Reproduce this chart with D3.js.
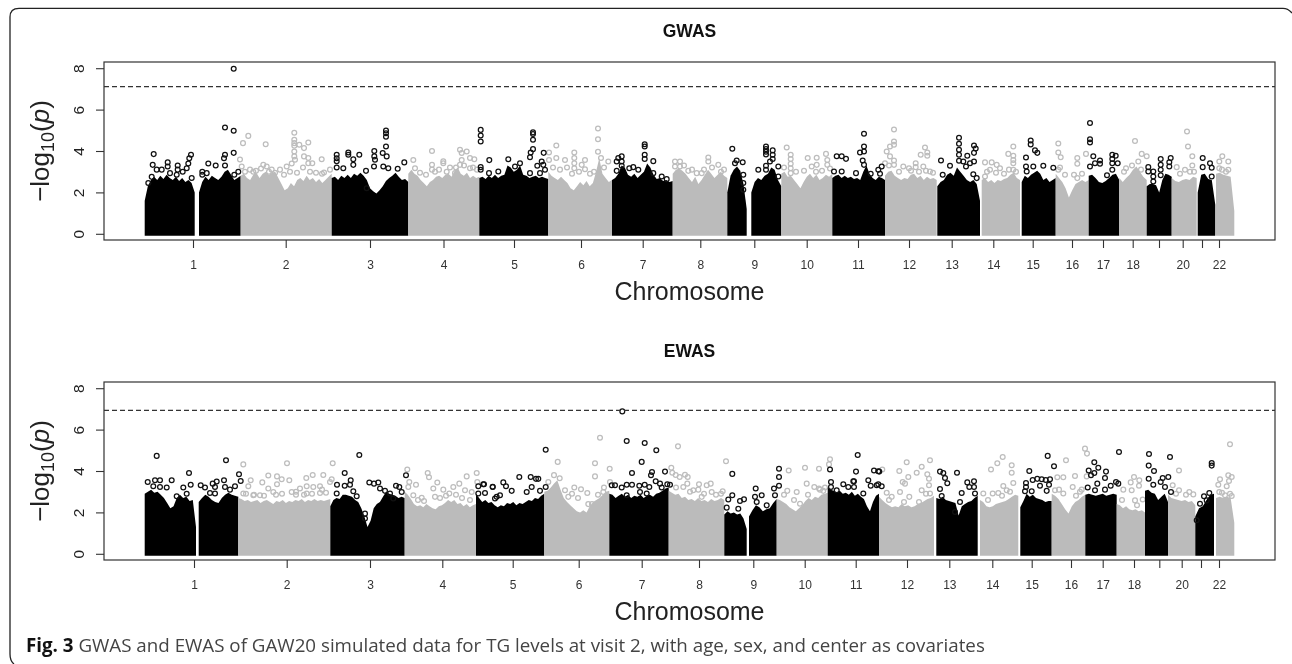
<!DOCTYPE html>
<html>
<head>
<meta charset="utf-8">
<script src="https://cdn.jsdelivr.net/npm/d3@7"></script>
<style>
    html, body { margin: 0; padding: 0; background: #fff; }
    svg { display: block; filter: blur(0.35px); }
    text { font-family: "Liberation Sans", Arial, sans-serif; }
</style>
</head>
<body>
<div id="chart"></div>
<script>
const chromLabels = ['1','2','3','4','5','6','7','8','9','10','11','12','13','14','15','16','17','18','','20','','22']
const yTicks = [0, 2, 4, 6, 8]

const gwasThreshold = 7.11
const ewasThreshold = 6.93

const gwasTicks = [89,181.7,266,339.5,410,477,538.7,596.3,650.3,702.7,754,805,847.7,889.3,928.7,968,999,1028.7,1055,1078.7,1098,1115]
const ewasTicks = [90,182.7,266,338.3,408.7,474.7,537.7,595,649.3,700.7,751.7,803,845.3,888.3,927.7,967,998.7,1030,1055.3,1077.7,1097,1115]

// dense part of each chromosome: [chromosome, start, end, top of the cloud read across the span]
const gwasBody = [
    [1, 40.7, 90.7, [1.6,2.3,2.6,2.75,2.6,2.8,2.65,2.85,2.7,2.6,2.75,2.55,2.7,2.5,2.6,2.45,2.0]],
    [1, 95, 136.7, [2.0,2.5,2.75,2.6,2.8,2.7,2.6,2.75,3.0,3.1,2.85,2.6,2.7,2.8]],
    [2, 136.7, 227.7, [2.8,2.9,2.7,2.6,2.85,2.95,2.7,2.9,3.0,2.85,2.95,3.0,2.7,2.4,2.1,2.2,2.45,2.3,2.6,2.7,2.55,2.8,2.6,2.7,2.5,2.65,2.45,2.6,2.75,2.9]],
    [3, 227.7, 304.3, [2.7,2.75,2.6,2.8,2.7,2.85,2.7,2.9,2.8,2.95,2.8,2.6,2.2,2.05,1.95,2.1,2.3,2.55,2.7,2.8,2.95,2.75,2.6,2.65,2.5]],
    [4, 304.3, 375.3, [2.9,3.1,2.9,2.8,2.6,2.45,2.3,2.5,2.6,2.75,2.8,2.7,2.85,2.9,2.75,3.05,3.2,2.9,2.8,2.95,2.7,2.8,2.7,2.75]],
    [5, 375.3, 444.3, [2.7,2.75,2.65,2.8,2.7,2.85,2.7,2.8,2.85,3.3,3.2,3.0,3.1,3.3,2.85,2.8,2.7,2.75,2.8,2.7,2.75,2.7,2.65]],
    [6, 444.3, 508, [3.0,2.8,2.7,2.6,2.75,2.6,2.45,2.2,2.1,2.3,2.5,2.35,2.55,2.3,2.45,3.0,3.65,2.9,2.7,2.5,2.6]],
    [7, 508, 568.7, [2.6,2.7,2.9,3.3,3.2,2.85,2.75,2.9,2.7,2.85,3.0,3.4,3.2,2.85,2.65,2.7,2.55,2.6,2.5,2.55]],
    [8, 568.7, 623.3, [2.9,3.1,3.15,3.05,2.9,2.7,2.5,2.75,2.4,2.6,2.85,3.1,2.9,2.7,2.85,3.0,2.8,2.7]],
    [9, 623.3, 642.7, [2.0,2.8,3.1,3.25,3.05,2.4,1.2]],
    [9, 647.3, 677.3, [2.0,2.5,2.7,2.6,2.8,2.9,3.2,3.1,2.6,2.3]],
    [10, 677.3, 728.3, [2.9,3.0,2.75,2.8,2.6,2.4,2.2,2.5,2.75,2.9,2.7,2.85,2.6,2.7,2.85,2.75,2.9]],
    [11, 728.3, 781, [2.7,2.8,2.85,2.7,2.8,2.7,2.75,2.65,2.7,2.6,3.0,3.3,2.9,2.7,2.6,2.75,2.7,2.6]],
    [12, 781, 832.7, [2.8,3.0,3.05,2.8,2.7,2.6,2.7,2.65,2.85,2.9,2.7,2.8,2.6,2.75,2.65,2.7,2.6]],
    [13, 833.3, 876, [2.3,2.5,2.6,2.85,2.95,2.8,3.2,3.0,2.8,2.6,2.5,2.6,2.4,1.6]],
    [14, 877.7, 916, [2.6,2.7,2.5,2.6,2.45,2.6,2.55,2.65,2.7,2.85,2.95,2.7,2.6]],
    [15, 917.7, 951.7, [2.5,2.8,2.7,2.85,2.95,3.05,2.9,2.6,2.7,2.5,2.6,2.7]],
    [16, 951.7, 984.7, [2.9,2.7,2.5,2.2,1.75,2.1,2.4,2.5,2.6,2.5,2.6]],
    [17, 984.7, 1015.3, [2.8,2.85,2.7,2.5,2.45,2.55,2.7,2.85,2.9,2.6]],
    [18, 1015.3, 1042.7, [2.7,2.5,2.7,2.85,3.1,3.25,3.0,2.75,2.6]],
    [19, 1042.7, 1067.7, [2.3,2.4,2.4,2.35,2.0,2.6,2.9,2.85,2.75]],
    [20, 1067.7, 1092.7, [2.7,2.55,2.5,2.6,2.65,2.6,2.75,2.7]],
    [21, 1093.7, 1111.3, [2.0,2.85,2.9,2.65,2.6,1.4]],
    [22, 1112, 1130.3, [2.9,2.95,2.85,2.8,2.75,1.1]]
]

const ewasBody = [
    [1, 40.7, 92, [2.9,3.0,3.1,2.95,3.0,2.85,2.7,2.45,2.2,2.3,2.7,2.85,2.7,2.75,2.55,2.6,1.3]],
    [1, 94.7, 134.3, [2.5,2.7,2.85,2.75,2.6,2.5,2.45,2.7,2.85,2.95,2.85,2.8,2.75]],
    [2, 134.3, 226.3, [2.7,2.65,2.55,2.6,2.5,2.55,2.6,2.45,2.55,2.6,2.5,2.4,2.55,2.5,2.6,2.45,2.55,2.5,2.6,2.55,2.65,2.5,2.6,2.55,2.65,2.55,2.6,2.55,2.6,2.65]],
    [3, 226.3, 300.7, [2.3,2.6,2.7,2.65,2.85,2.85,2.8,2.75,2.6,2.5,2.2,1.8,1.3,1.6,2.2,2.4,2.5,2.75,3.0,2.9,2.85,2.8,2.7,2.75,2.7]],
    [4, 300.7, 372, [3.0,2.85,2.65,2.4,2.3,2.35,2.25,2.4,2.3,2.2,2.15,2.3,2.35,2.45,2.6,2.5,2.6,2.4,2.45,2.3,2.4,2.25,2.35,2.4]],
    [5, 372, 440.3, [2.9,2.7,2.5,2.6,2.45,2.5,2.35,2.25,2.35,2.3,2.45,2.4,2.5,2.35,2.45,2.4,2.5,2.6,2.55,2.7,2.65,2.8,2.9]],
    [6, 440.3, 505.3, [3.0,3.05,3.2,3.4,3.55,3.1,2.7,2.5,2.35,2.2,2.05,2.0,2.1,2.0,2.3,2.5,2.6,2.7,2.85,3.0,3.05]],
    [7, 505.3, 564.7, [2.9,2.85,2.7,2.8,2.9,2.75,2.85,2.7,2.8,2.75,2.85,2.7,2.8,2.85,2.75,2.9,2.95,3.05,3.15,3.2]],
    [8, 564.7, 620.3, [3.05,2.95,2.85,2.9,2.7,2.75,2.6,2.65,2.55,2.7,2.55,2.6,2.5,2.65,2.55,2.6,2.7,2.6]],
    [9, 620.3, 642.7, [1.9,2.05,1.95,2.0,1.9,1.95,1.7,1.2]],
    [9, 645, 672.7, [1.8,2.1,2.35,2.25,2.05,2.15,2.2,2.45,2.65]],
    [10, 672.7, 723.7, [2.65,2.6,2.5,2.4,2.25,2.15,2.05,2.2,2.35,2.55,2.7,2.6,2.75,2.7,2.85,2.9,2.95]],
    [11, 723.7, 775, [3.2,3.1,3.05,2.95,3.05,2.9,2.95,2.85,3.0,2.8,2.9,2.75,2.65,2.3,2.05,2.5,2.8,2.9]],
    [12, 775, 830, [2.75,2.6,2.45,2.35,2.25,2.3,2.25,2.4,2.3,2.35,2.25,2.3,2.4,2.45,2.55,2.65,2.7,2.8]],
    [13, 832.3, 873.7, [2.7,2.65,2.75,2.6,2.55,2.5,2.45,1.85,2.3,2.4,2.5,2.55,2.7,2.8]],
    [14, 876, 914.3, [2.6,2.5,2.3,2.25,2.3,2.4,2.45,2.5,2.55,2.65,2.75,2.85,2.8]],
    [15, 916.3, 947.7, [2.25,2.55,2.9,2.75,2.85,2.7,2.65,2.6,2.5,2.55,2.55]],
    [16, 947.7, 981.3, [2.9,2.8,2.65,2.4,2.15,1.95,2.3,2.5,2.6,2.75,2.85]],
    [17, 981.3, 1012.7, [2.85,2.9,2.85,2.8,2.85,2.9,2.8,2.85,2.9,2.85]],
    [18, 1012.7, 1041, [2.4,2.35,2.2,2.3,2.15,2.1,2.15,2.05,2.1,2.0]],
    [19, 1041, 1064, [3.05,3.1,2.95,2.9,2.6,2.75,2.9,2.5]],
    [20, 1064, 1091.3, [2.85,2.7,2.65,2.6,2.55,2.6,2.5,2.55,2.35]],
    [21, 1091.3, 1110, [1.8,2.2,2.3,2.6,2.85,2.9]],
    [22, 1112, 1130.3, [2.7,2.75,2.7,2.75,2.7,1.5]]
]

// single points above the cloud: [position, -log10(p)]
const gwasOdd = [
    [49.7,3.85],[48.7,3.33],[63.7,3.45],[63.7,3.25],[73.7,3.3],[73.7,3.1],[87,3.82],[85.3,3.65],[84.3,3.4],[82.7,3.17],[78.7,3.0],[52.7,3.1],[57.7,3.1],[66,2.93],[72.7,2.85],[44.3,2.45],[47.7,2.75],[87.7,2.7],
    [104.3,3.4],[111.7,3.3],[98.3,3.0],[98.3,2.85],[102.7,2.93],[121,5.14],[129.7,4.98],[129.7,7.97],[129.7,3.91],[121,3.82],[120,3.65],[121,3.3],[134.3,3.0],[130.3,2.85],
    [232.7,3.82],[232.7,3.65],[232.7,3.5],[232.7,3.2],[244.3,3.93],[244.3,3.82],[249.3,3.6],[255.3,3.82],[249.3,3.33],[239.3,3.17],[262,3.04],[270.3,4.0],[270.3,3.74],[271,3.58],[270,3.25],[278.7,3.9],[282.7,3.74],[282,4.99],[282,4.86],[282,4.69],[282,4.22],[279.3,3.25],[284.3,3.17],[300.3,3.45],[293.7,3.14],[262.7,2.2],
    [376.7,5.02],[376.7,4.75],[376.7,4.46],[376.7,3.22],[376.7,3.09],[385.3,3.56],[385,2.93],[394.3,3.01],[404.3,3.6],[411,3.25],[416,3.41],[429,4.9],[429,4.82],[429,4.54],[429,4.09],[426.7,3.93],[426,3.7],[439.7,3.91],[437.7,3.49],[433.3,3.29],[439.3,3.33],[441,3.09],[426,2.93],[436,2.93],
    [517.7,3.74],[514.3,3.66],[512.7,3.49],[517.7,3.49],[517.7,3.29],[512.7,3.04],[529.3,3.22],[525.3,3.17],[540.7,4.33],[540.7,4.22],[540.7,3.82],[540.7,3.61],[549.3,3.51],[549.3,2.93],[557.7,2.77],[562.7,2.64],[534.3,3.09],
    [628.3,4.11],[632.7,3.54],[631,3.41],[638.7,3.46],[639.3,2.85],[639.3,2.45],[639.3,2.13],[662,4.22],[662,4.09],[662,3.96],[662,3.83],[668.7,4.03],[668.7,3.82],[668.7,3.61],[666,3.49],[662,3.29],[662,3.09],[654.3,3.09],[674.3,3.25],[674.3,2.77],
    [732.7,3.75],[737.7,3.75],[742,3.62],[730,3.01],[737.7,3.01],[752,2.93],[760,4.83],[760,4.22],[760,3.98],[756,3.93],[758.7,3.54],[760,3.33],[766.7,2.9],[777.7,3.25],[774.3,3.09],[776,2.9],
    [837,3.54],[838.7,2.85],[846,3.29],[855,4.64],[855,4.35],[855,4.06],[855,3.82],[855,3.53],[863.3,3.77],[859.3,3.49],[862,3.25],[870,4.27],[871.7,4.12],[870,3.91],[870,3.49],[866,3.41],[869.3,2.88],[872.7,2.69],
    [926.7,4.51],[926.7,4.32],[931,4.03],[933.3,3.91],[922,3.69],[922,3.25],[939.3,3.29],[949.3,3.19],[922.7,3.01],[929.3,3.25],
    [986,5.35],[986,4.57],[986,4.41],[989.3,3.75],[996,3.54],[996,3.38],[991,3.41],[986,3.25],[1003,2.83],[1008.3,3.82],[1011.7,3.77],[1008.3,3.61],[1008.3,3.41],[1013.7,3.41],[1008.3,3.09],
    [1044.3,3.22],[1044.3,3.01],[1049.3,3.01],[1049.3,2.77],[1049.3,2.53],[1056.7,3.61],[1056.7,3.33],[1056.7,3.09],[1056.7,2.83],[1066.7,3.66],[1065.3,3.46],[1065.3,3.25],
    [1098.7,3.66],[1106,3.41],[1107.7,3.19],[1098.7,3.22],[1107.7,2.77]
]

const gwasEven = [
    [144.3,4.73],[139,4.38],[136,3.59],[161.7,4.33],[137.7,3.25],[149.3,3.0],[159.3,3.33],[162.7,3.25],[167.7,3.1],[176,3.1],[182.7,3.25],[187.7,3.4],[190.3,4.88],[190.3,4.54],[190.3,4.38],[190.3,4.25],[190.3,3.98],[190.3,3.74],[191,3.58],[195.3,4.3],[200,4.14],[204.3,4.41],[200,3.74],[204.3,3.66],[204.3,3.41],[208.3,3.41],[217.7,3.6],[220,2.96],[226,3.1],
    [141,3.0],[146,3.1],[152,3.05],[157,3.15],[165,3.0],[171,2.95],[180,2.85],[186,3.0],[193,2.95],[199,3.2],[206,3.0],[212,2.95],[218,2.9],
    [309.3,3.57],[311,3.17],[328,4.0],[328,3.33],[328,3.1],[339.3,3.5],[342.7,3.0],[339.3,3.41],[356,4.06],[357.7,3.9],[362.7,3.98],[357.7,3.57],[366,3.66],[370.3,3.6],[356,3.33],[366,3.17],[351,2.93],
    [316,2.95],[322,2.85],[331,3.0],[335,3.1],[346,3.2],[352,3.2],[360,3.3],[369,3.2],[373,3.1],
    [445,3.93],[445,3.57],[452.3,4.27],[452.3,3.66],[461,3.57],[470.3,3.93],[470.3,3.66],[470.3,3.41],[470.3,3.17],[481,3.57],[481,3.12],[477.7,3.33],[494,5.09],[494,4.57],[494,3.96],[497,3.66],[504.3,3.49],
    [449,3.2],[456,3.1],[463,3.2],[468,2.9],[475,3.0],[486,2.9],[490,3.0],[500,3.2],
    [571,3.49],[576,3.49],[571,3.25],[576,3.25],[584.3,3.04],[604.3,3.69],[604.3,3.49],[614.3,3.33],[592.7,2.93],[597.7,2.93],
    [580,3.3],[588,3.1],[600,3.1],[608,3.2],[617,3.0],[620,3.1],
    [682.7,4.17],[686.7,3.82],[686.7,3.61],[686.7,3.38],[686.7,3.17],[686.7,2.93],[703.7,3.66],[712.7,3.67],[712.7,3.33],[707.7,3.25],[722,3.86],[723.3,3.57],[723.3,3.33],
    [680,3.2],[692,3.0],[700,3.05],[712,3.0],[718,3.05],[726,3.15],
    [790,5.04],[790,4.46],[790,4.3],[786,4.22],[782.7,3.98],[786,3.74],[790,3.54],[790,3.33],[781,3.41],[799.3,3.25],[805,3.17],[811.7,3.41],[811.7,3.22],[816.7,3.82],[821,4.17],[823.3,3.93],[823.3,3.77],[819.3,3.25],[826,3.01],
    [785,3.3],[795,3.0],[807,3.05],[815,3.0],[822,3.05],[829,2.95],
    [881,3.45],[887.7,3.45],[892.7,3.33],[896,3.17],[881,2.77],[886,3.09],[904.3,3.86],[909.3,4.22],[909.3,3.77],[909.3,3.57],[909.3,3.41],[909.3,3.09],
    [883,3.0],[892,2.95],[900,2.9],[905,3.1],[912,3.0],
    [954.3,4.36],[954.3,3.93],[956.7,3.7],[954.3,3.09],[961,2.85],[973.3,3.66],[973.3,3.38],[982,3.86],[973.3,2.69],
    [956,3.2],[970,2.85],[978,2.9],
    [1031,4.48],[1037.7,3.86],[1042.7,3.75],[1034.3,3.49],[1022,3.17],
    [1020,3.0],[1028,3.3],[1037,3.1],
    [1083,4.94],[1084,4.22],[1088.3,3.75],[1088.3,3.3],[1081,3.09],[1072.7,3.22],
    [1076,2.9],[1086,3.0],[1090,3.0],
    [1118.3,3.75],[1115.3,3.49],[1124.3,3.49],[1115.3,3.17],[1124.3,3.09],
    [1118,3.1],[1122,3.0]
]

const ewasOdd = [
    [52.7,4.73],[43.7,3.47],[51,3.55],[56,3.55],[49.3,3.26],[56,3.23],[62.7,3.2],[67.7,3.55],[85,3.9],[86.7,3.34],[79.3,3.2],[72.7,2.78],[82.7,2.9],
    [122,4.52],[135,3.84],[136.7,3.52],[96.7,3.31],[101,3.2],[108.7,3.39],[112.7,3.49],[120,3.55],[121,3.23],[111,3.23],[106,2.94],[111,2.91],[131,3.26],[126,3.1],
    [255.3,4.77],[240.7,3.9],[246.7,3.55],[233,3.34],[240.7,3.29],[246,3.34],[232.7,2.91],[249.3,3.02],[252.7,2.78],[265.3,3.44],[270,3.39],[274.3,3.44],[276,3.15],[281,3.04],[286,2.91],[292,3.29],[295.3,3.23],[297.7,2.99],[289.3,2.67],[261,1.94],[261,1.7],[302,3.79],
    [374.3,3.26],[379.3,3.36],[388.7,3.23],[381,2.94],[374.3,2.91],[392.7,2.75],[380,3.36],[388.7,3.24],[399.3,3.45],[402,3.26],[407.7,3.04],[415.3,3.71],[426.7,3.71],[432,3.62],[434.3,3.62],[427.7,3.23],[441.7,5.03],[441.7,3.23],[436,3.04],[422.7,2.99],[396,2.83],[391,2.67],
    [518.3,6.88],[522.7,5.45],[540.7,5.35],[552.3,5.0],[537.7,4.44],[528,3.9],[548,3.95],[547,3.79],[561,3.97],[507.7,3.31],[511,3.31],[517.7,3.2],[522.7,3.34],[528,3.34],[535.3,3.29],[540.7,3.34],[545.3,3.23],[551.7,3.5],[556,3.39],[557.7,3.2],[563.3,3.36],[566,3.34],[536,2.99],[542.7,2.91],[522.7,2.83],
    [628.3,3.86],[628.3,2.83],[624.3,2.62],[622.7,2.23],[636,2.55],[640,2.63],[634.3,2.18],[651.7,3.15],[657.7,2.83],[651,2.75],[652.7,2.5],[675,4.11],[675,3.71],[675,3.29],[670,3.15],[671,2.83],[662.7,2.34],
    [726,4.07],[727,3.47],[727,3.23],[753.7,4.77],[752,3.97],[770,4.02],[774.3,3.99],[764.3,3.55],[766.7,3.29],[772.7,3.31],[750,3.5],[750,3.23],[739.3,3.36],[744.3,3.23],[732.7,3.07],[759.3,2.91],[775.3,3.97],[749.3,3.5],[774.3,3.36],[777.7,3.26],
    [836,3.97],[839.3,3.9],[841,3.66],[843.3,3.41],[853,3.92],[836,3.13],[837.7,2.79],[863.3,3.45],[870,3.5],[865.3,3.23],[870,3.23],[871,2.91],[857.7,2.94],[856,2.5],[851,2.02],
    [925.3,4.0],[943.7,4.73],[950,4.23],[928.7,3.57],[933.3,3.62],[937.7,3.6],[941.7,3.57],[946,3.6],[922,3.42],[922,3.23],[936,3.29],[945,3.34],[921,3.02],[927.7,3.02],[942.7,3.04],
    [990.3,4.42],[994.3,4.16],[984.7,4.02],[987,3.79],[990.3,3.9],[1002,3.97],[1001,3.66],[993.3,3.39],[1001,3.1],[1006.7,3.29],[1012,3.47],[1015,4.92],[1014.3,3.39],[983.7,3.2],[991,3.07],
    [1045,4.82],[1044.7,4.26],[1050,4.0],[1044.7,3.63],[1049.3,3.34],[1056.7,3.47],[1058.7,3.66],[1066,4.68],[1064.3,3.71],[1061,3.23],[1067,2.99],
    [1107.7,4.39],[1107.7,4.26],[1100,2.78],[1105.3,2.94],[1102.7,2.58],[1096,2.42],[1092.7,1.62]
]

const ewasEven = [
    [139.3,4.32],[146.7,3.55],[144.3,3.26],[139.3,2.91],[158.3,3.45],[164.3,3.78],[173,3.74],[177.7,3.6],[185.3,3.55],[183,4.37],[173,3.36],[164.3,3.15],[149.3,2.83],[156,2.83],[169.3,2.99],[187.7,2.99],[196,3.15],[202.3,3.66],[208.7,3.81],[219.3,3.81],[228.7,4.37],[227.7,3.6],[202.7,3.26],[209.3,3.23],[216,3.26],[226,3.47],[216,2.94],[202.7,2.91],
    [142,2.9],[150,2.85],[160,2.8],[172,2.85],[178,2.9],[192,2.85],[200,2.85],[208,2.9],[222,2.95],[218,3.1],[192,3.0],
    [303.3,4.07],[305.3,3.47],[312,3.34],[304.3,3.23],[309.3,2.83],[323.7,3.9],[325,3.7],[333.3,3.44],[329.3,3.15],[331,2.75],[339.3,3.1],[345.3,2.91],[355.3,3.39],[362.7,3.74],[372.7,3.9],[373.3,3.47],[361,3.07],[367.7,2.99],[317.7,2.71],[349.3,3.23],
    [314,2.6],[320,2.55],[336,2.7],[342,2.8],[352,2.85],[358,2.7],[366,2.6],
    [453.7,4.44],[455.7,3.65],[444.3,3.47],[470.3,3.2],[477,3.12],[483.3,2.94],[491,4.37],[491,3.74],[496,5.61],[505.7,4.11],[499.3,2.99],[461,3.07],[464.3,2.75],[484.3,2.4],[506,3.47],
    [450,3.8],[468,2.9],[474,2.7],[488,2.4],[494,2.85],[500,3.2],
    [567.3,4.16],[568.3,3.92],[571.7,3.81],[575.7,3.71],[574,5.19],[581,3.82],[583.7,3.71],[583.3,3.39],[579.3,3.23],[595,3.36],[594.3,3.1],[589.3,3.07],[602.7,3.31],[606.7,3.39],[607.7,2.99],[618.7,3.02],[622,4.47],[597.7,2.75],
    [572,3.2],[586,3.0],[600,2.9],[612,2.85],[617,2.9],
    [684.7,4.02],[701,4.16],[715,4.11],[702.7,3.39],[683.3,3.04],[692.7,2.99],[710.3,3.23],[715,3.15],[719.3,3.04],[696,2.42],[726,4.57],[725,4.32],
    [680,2.85],[690,2.6],[704,2.85],[716,3.1],[721,3.2],
    [778.3,4.07],[782.7,2.95],[787.7,2.75],[795.3,4.0],[802.7,4.42],[804.3,3.71],[798.7,3.47],[801,3.39],[796,2.99],[805.3,2.75],[812.7,3.92],[817.7,4.21],[826,4.52],[823.3,3.84],[825,3.63],[825,3.31],[817.7,3.07],[826,2.91],
    [785,2.6],[800,2.5],[815,2.5],[822,2.9],
    [887,4.07],[893.3,4.37],[898.7,4.68],[907.7,4.28],[907.7,3.92],[909.3,3.42],[899.3,3.28],[879.3,2.91],[888.7,2.91],[894.3,2.94],[902.7,3.07],
    [884,2.6],[898,2.8],[906,3.0],
    [953.3,3.7],[959.3,3.7],[962,4.52],[971,3.76],[951,3.07],[959.3,2.91],[968.7,3.23],[981,5.08],[983,4.84],[982.7,3.74],[977.7,3.1],
    [955,3.1],[972,2.8],[976,3.0],
    [1019.3,3.1],[1030,3.71],[1026.7,3.45],[1035.3,3.55],[1035,3.29],[1027.7,3.07],[1031,2.58],[1038.7,2.62],
    [1018,2.6],[1033,2.35],
    [1075,4.02],[1068.7,3.31],[1075,3.07],[1085.3,2.99],[1089.3,2.87],
    [1072,2.9],[1082,2.85],
    [1126,5.29],[1124.3,3.79],[1127.7,3.71],[1116,3.6],[1114.3,3.34],[1122.7,3.26],[1125,3.52],[1115.3,2.99],[1121,2.83],[1127.7,2.79],
    [1118,2.95],[1126,2.9]
]

const BLACK = '#000'
const GRAY = '#bbb'
const INK = '#333'

const width = 1292
const height = 664

const svg = d3.select('#chart').append('svg')
    .attr('width', width)
    .attr('height', height)

// figure frame, open at the bottom right like the journal page
svg.append('path')
    .attr('d', 'M1292,13 Q1288,8.3 1283,8.3 L19,8.3 Q10,8.3 10,17 L10,654 Q10,661 14,664')
    .attr('fill', 'none')
    .attr('stroke', '#222')
    .attr('stroke-width', 1.3)

const x = d3.scaleLinear().domain([0, 1171]).range([104, 1275])

function drawPanel(opts) {
    const top = opts.top
    const bottom = top + 178
    const y = d3.scaleLinear().domain([-0.3, 8.3]).range([bottom, top])
    const g = svg.append('g')

    const area = d3.area()
        .y0(y(-0.1))
        .y1(d => y(d))

    const series = [[opts.even, '#bdbdbd'], [opts.odd, '#111']]
    const drawPoints = (s) => {
        g.append('g')
            .selectAll('circle')
            .data(s[0])
            .enter()
            .append('circle')
            .attr('cx', d => x(d[0]))
            .attr('cy', d => y(d[1]))
            .attr('r', 2.4)
            .attr('fill', 'none')
            .attr('stroke', s[1])
            .attr('stroke-width', 1.25)
    }

    // gray points go under the cloud of the black chromosomes next to them
    drawPoints(series[0])

    g.selectAll('path.body')
        .data(opts.body)
        .enter()
        .append('path')
        .attr('class', 'body')
        .attr('d', d => {
            const along = d3.scaleLinear().domain([0, d[3].length - 1]).range([d[1], d[2]])
            return area.x((v, i) => x(along(i)))(d[3])
        })
        .attr('fill', d => d[0] % 2 ? BLACK : GRAY)

    drawPoints(series[1])

    g.append('line')
        .attr('x1', x.range()[0])
        .attr('x2', x.range()[1])
        .attr('y1', y(opts.threshold))
        .attr('y2', y(opts.threshold))
        .attr('stroke', INK)
        .attr('stroke-width', 1.2)
        .attr('stroke-dasharray', '5,3')

    g.append('rect')
        .attr('x', x.range()[0])
        .attr('y', top)
        .attr('width', x.range()[1] - x.range()[0])
        .attr('height', bottom - top)
        .attr('fill', 'none')
        .attr('stroke', INK)
        .attr('stroke-width', 1.2)

    const xAxis = d3.axisBottom(x)
        .tickValues(opts.ticks)
        .tickFormat((d, i) => chromLabels[i])
        .tickSize(8)
        .tickPadding(12)
    const xG = g.append('g')
        .attr('transform', `translate(0,${bottom})`)
        .call(xAxis)
    xG.select('.domain').remove()
    xG.selectAll('line').attr('stroke', INK).attr('stroke-width', 1.1)
    xG.selectAll('text').style('font-size', '12px').attr('fill', '#333')

    const yAxis = d3.axisLeft(y)
        .tickValues(yTicks)
        .tickSize(8)
        .tickFormat(d3.format('d'))
    const yG = g.append('g')
        .attr('transform', `translate(${x.range()[0]},0)`)
        .call(yAxis)
    yG.select('.domain').remove()
    yG.selectAll('line').attr('stroke', INK).attr('stroke-width', 1.1)
    yG.selectAll('text')
        .attr('x', 0)
        .attr('y', 0)
        .attr('dy', 0)
        .attr('text-anchor', 'middle')
        .attr('transform', 'translate(-20,0) rotate(-90)')
        .style('font-size', '15.5px')
        .attr('fill', '#222')

    g.append('text')
        .text(opts.title)
        .attr('x', 689.5)
        .attr('y', top - 25)
        .attr('text-anchor', 'middle')
        .style('font-size', '17.5px')
        .style('font-weight', 'bold')
        .attr('fill', '#111')

    g.append('text')
        .text('Chromosome')
        .attr('x', 689.5)
        .attr('y', bottom + 60)
        .attr('text-anchor', 'middle')
        .style('font-size', '25px')
        .attr('fill', '#222')

    const yLabel = g.append('text')
        .attr('transform', `translate(49,${(top + bottom) / 2}) rotate(-90)`)
        .attr('text-anchor', 'middle')
        .style('font-size', '26px')
        .attr('fill', '#222')
    yLabel.append('tspan').text('\u2212log')
    yLabel.append('tspan').text('10').attr('dy', 5).style('font-size', '18px')
    yLabel.append('tspan').text('(').attr('dy', -5)
    yLabel.append('tspan').text('p').style('font-style', 'italic')
    yLabel.append('tspan').text(')')
}

drawPanel({ title: 'GWAS', top: 62, threshold: gwasThreshold, ticks: gwasTicks, body: gwasBody, odd: gwasOdd, even: gwasEven })
drawPanel({ title: 'EWAS', top: 382, threshold: ewasThreshold, ticks: ewasTicks, body: ewasBody, odd: ewasOdd, even: ewasEven })

const caption = svg.append('text')
    .attr('x', 26)
    .attr('y', 652)
    .style('font-family', '"Open Sans", "Noto Sans", sans-serif')
    .style('font-size', '18.75px')
    .attr('fill', '#444')
caption.append('tspan').text('Fig. 3').style('font-weight', 'bold').attr('fill', '#111')
caption.append('tspan').text(' GWAS and EWAS of GAW20 simulated data for TG levels at visit 2, with age, sex, and center as covariates')
</script>
</body>
</html>
